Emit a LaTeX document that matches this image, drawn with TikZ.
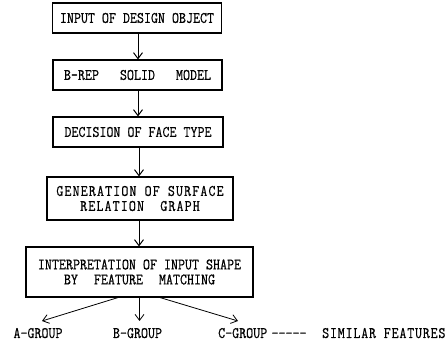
\documentclass[tikz,border=0pt]{standalone}
\usepackage{fontspec}
\newfontfamily\figfont{Latin Modern Mono}[FakeStretch=0.85,FakeBold=0.6]
\newfontfamily\figfontwide{Latin Modern Mono}[FakeStretch=0.85,FakeBold=0.6,LetterSpace=7]
\newfontfamily\figfontmid{Latin Modern Mono}[FakeStretch=0.85,FakeBold=0.6,LetterSpace=5]
\usetikzlibrary{arrows.meta}
\begin{document}
\begin{tikzpicture}[x=1pt,y=-1pt,
  box/.style={draw,line width=1.1pt,inner sep=0pt,align=center,font=\figfont\fontsize{16}{15}\selectfont},
  lbl/.style={inner sep=0pt,anchor=base,font=\figfont\fontsize{16}{15}\selectfont},
  arr/.style={line width=1pt,-{Straight Barb[length=6pt,width=9pt]}}]
\useasboundingbox (0,0) rectangle (448,350);
\node[box,minimum width=169pt,minimum height=30pt] (b1) at (137,18) {INPUT OF DESIGN OBJECT};
\node[box,minimum width=169pt,minimum height=30pt] (b2) at (137.5,75) {B-REP\ \ \ SOLID\ \ \ MODEL};
\node[box,minimum width=170pt,minimum height=30pt] (b3) at (138,132) {DECISION OF FACE TYPE};
\node[box,minimum width=186pt,minimum height=43pt,font=\figfontwide\fontsize{16}{15}\selectfont] (b4) at (140,198.5) {GENERATION OF SURFACE\\RELATION\ \ GRAPH};
\node[box,minimum width=227pt,minimum height=50pt] (b5) at (139.5,272) {INTERPRETATION OF INPUT SHAPE\\BY\hspace{1em}FEATURE\hspace{1em}MATCHING};
\draw[arr] (b1.south -| 138,0) -- (b2.north -| 138,0);
\draw[arr] (b2.south -| 138,0) -- (b3.north -| 138,0);
\draw[arr] (b3.south -| 139,0) -- (b4.north -| 139,0);
\draw[arr] (b4.south -| 139,0) -- (b5.north -| 139,0);
\node[lbl] (ga) at (38,338) {A-GROUP};
\node[lbl] (gb) at (137.5,338) {B-GROUP};
\node[lbl,anchor=base west] (gc) at (218,338) {C-GROUP};
\node[lbl] (dd) at (289,338) {-----};
\node[lbl,anchor=base west,font=\figfontmid\fontsize{16}{15}\selectfont] (sf) at (322,338) {SIMILAR FEATURES};
\coordinate (ta) at (42,321);
\coordinate (tb) at (139.5,321);
\coordinate (tc) at (238,321);
\draw[arr,line width=0.8pt] (b5.south -| 118,0) -- (ta);
\draw[arr,line width=0.8pt] (b5.south -| 139.5,0) -- (tb);
\draw[arr,line width=0.8pt] (b5.south -| 160,0) -- (tc);
\end{tikzpicture}
\end{document}
